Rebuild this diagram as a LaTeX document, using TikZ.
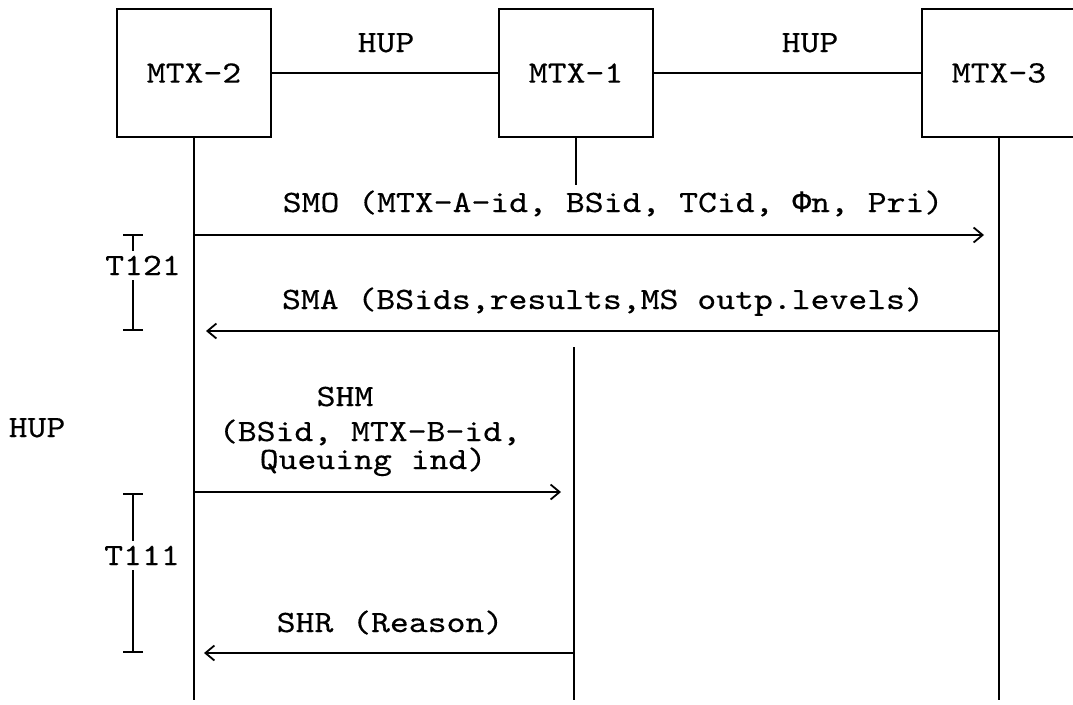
\documentclass[tikz,border=0pt]{standalone}
\usepackage{fontspec}
\newfontfamily\courfont{lmmono10-regular.otf}[FakeStretch=1.16,FakeBold=0.4]
\newfontfamily\phifont{Liberation Mono}[FakeBold=0.3]
\usetikzlibrary{arrows.meta}
\begin{document}
\begin{tikzpicture}[x=1pt,y=-1pt,
  every node/.style={font=\courfont\fontsize{31}{37}\selectfont, inner sep=0pt},
  mtxbox/.style={draw, line width=1.8pt, minimum width=154pt, minimum height=128pt},
  life/.style={line width=1.8pt},
  msg/.style={line width=1.8pt, -{Straight Barb[length=9pt,width=15pt,line width=1.8pt]}},
  timer/.style={line width=1.6pt, {Bar[width=20pt,line width=1.6pt]}-{Bar[width=20pt,line width=1.6pt]}},
  tlabel/.style={fill=white, inner xsep=0pt, inner ysep=5pt, anchor=base},
  lbl/.style={anchor=base},
  tight/.style={anchor=base, text height=19pt, text depth=0pt}]
\useasboundingbox (0,0) rectangle (1073,704);

% boxes
\node[mtxbox] (m2) at (194,73) {MTX-2};
\node[mtxbox] (m1) at (576,73) {MTX-1};
\node[mtxbox] (m3) at (999,73) {MTX-3};

\draw[life] (m2.east) -- (m1.west);
\draw[life] (m1.east) -- (m3.west);
\node[lbl] (hup1) at (386,52) {HUP};
\node[lbl] (hup2) at (810,52) {HUP};

% lifelines
\coordinate (m2end) at (194,700);
\coordinate (m3end) at (999,700);
\coordinate (m1stub) at (576,185);
\coordinate (m1top) at (574,347);
\coordinate (m1end) at (574,700);
\draw[life] (m2.south) -- (m2end);
\draw[life] (m3.south) -- (m3end);
\draw[life] (m1.south) -- (m1stub);
\draw[life] (m1top) -- (m1end);

% SMO
\coordinate (smoA) at (194,235);
\coordinate (smoB) at (984,235);
\draw[msg] (smoA) -- (smoB);
\node[lbl] (smo) at (613,212) {SMO (MTX-A-id, BSid, TCid, {\phifont Φ}n, Pri)};

% SMA
\coordinate (smaA) at (999,331);
\coordinate (smaB) at (206,331);
\draw[msg] (smaA) -- (smaB);
\node[lbl] (sma) at (603,309) {SMA (BSids,results,MS outp.levels)};

% T121
\coordinate (t121a) at (133,234);
\coordinate (t121b) at (133,331);
\draw[timer] (t121a) -- (t121b);
\node[tlabel] (t121) at (143,275) {T121};

% HUP left
\node[lbl] (hup3) at (37,437) {HUP};

% SHM
\node[tight] (shm1) at (345,406) {SHM};
\node[tight] (shm2) at (370,441) {(BSid, MTX-B-id,};
\node[tight] (shm3) at (373,469) {Queuing ind)};
\coordinate (shmA) at (194,492);
\coordinate (shmB) at (561,492);
\draw[msg] (shmA) -- (shmB);

% T111
\coordinate (t111a) at (133,493);
\coordinate (t111b) at (133,653);
\draw[timer] (t111a) -- (t111b);
\node[tlabel] (t111) at (142,565) {T111};

% SHR
\node[lbl] (shr) at (390,632) {SHR (Reason)};
\coordinate (shrA) at (574,653);
\coordinate (shrB) at (204,653);
\draw[msg] (shrA) -- (shrB);
\end{tikzpicture}
\end{document}
